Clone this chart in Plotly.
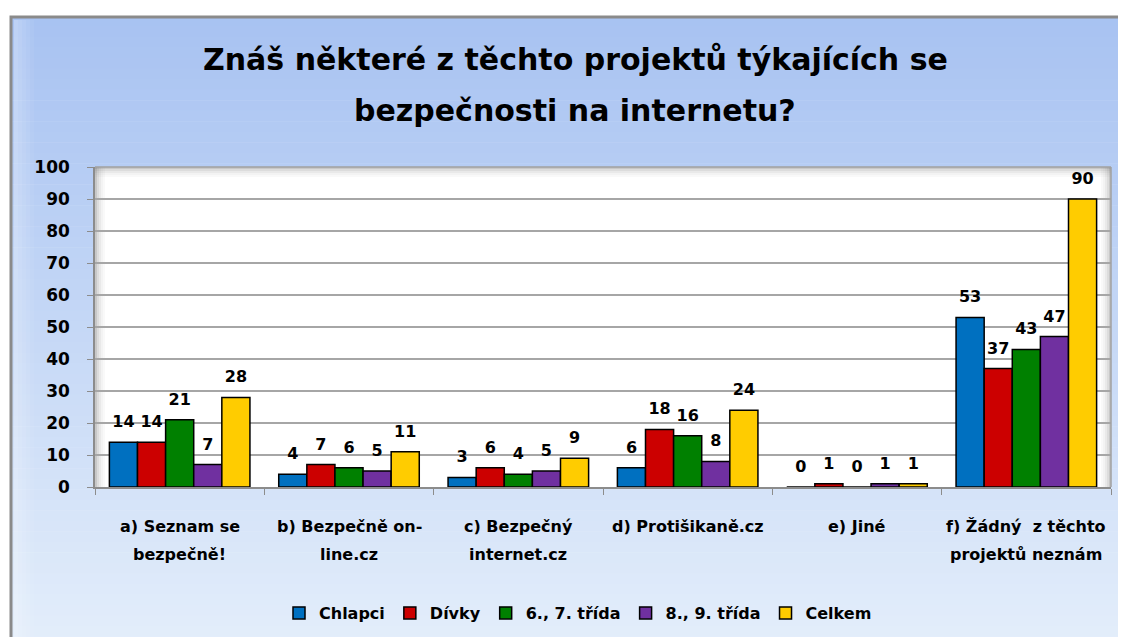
import plotly.graph_objects as go

categories = ["a) Seznam se<br>bezpečně!", "b) Bezpečně on-<br>line.cz", "c) Bezpečný<br>internet.cz",
              "d) Protišikaně.cz", "e) Jiné", "f) Žádný  z těchto<br>projektů neznám"]
cat_keys = ["a", "b", "c", "d", "e", "f"]
series_names = ["Chlapci", "Dívky", "6., 7. třída", "8., 9. třída", "Celkem"]
chlapci = [14, 4, 3, 6, 0, 53]
divky = [14, 7, 6, 18, 1, 37]
trida67 = [21, 6, 4, 16, 0, 43]
trida89 = [7, 5, 5, 8, 1, 47]
celkem = [28, 11, 9, 24, 1, 90]
colors = ["#0070c0", "#cc0000", "#008000", "#7030a0", "#ffcc00"]
y_ticks = list(range(0, 101, 10))
title_lines = ["Znáš některé z těchto projektů týkajících se", "bezpečnosti na internetu?"]

W, H = 1126, 637
OFF = 8  # page body margin
L, R, T, B = 95, 1111, 167, 487   # plot area in reference pixels
FONT = "DejaVu Sans"
GAP = 0.17


def px(x):
    return (x - L) / (R - L)


def py(y):
    return (B - y) / (B - T)


fig = go.Figure()
all_vals = [chlapci, divky, trida67, trida89, celkem]
for k, (name, vals, col) in enumerate(zip(series_names, all_vals, colors)):
    fig.add_trace(go.Bar(
        x=cat_keys, y=vals, name=name, offsetgroup=str(k),
        marker=dict(color=col, line=dict(color="black", width=1.5)),
    ))
for k, (name, vals) in enumerate(zip(series_names, all_vals)):
    fig.add_trace(go.Scatter(
        x=cat_keys, y=vals, name=name, offsetgroup=str(k), showlegend=False,
        mode="markers+text", marker=dict(size=16, opacity=0),
        text=[str(v) for v in vals], textposition="top center",
        textfont=dict(family=FONT, size=16, color="black", weight="bold"),
        cliponaxis=False, hoverinfo="skip",
    ))

shapes = []
top_c = (168, 195, 242)
bot_c = (228, 238, 251)
n = 60
y0p, y1p = 16, H + 10
for i in range(n):
    a = y0p + (y1p - y0p) * i / n
    b = y0p + (y1p - y0p) * (i + 1) / n
    t = i / (n - 1)
    c = tuple(int(top_c[k] + (bot_c[k] - top_c[k]) * t) for k in range(3))
    shapes.append(dict(type="rect", xref="paper", yref="paper", layer="below",
                       x0=px(10), x1=px(W + 20), y0=py(b + 0.5), y1=py(a),
                       fillcolor="rgb(%d,%d,%d)" % c, line=dict(width=0)))
for i, op in enumerate([0.25, 0.2, 0.15, 0.1, 0.05]):
    shapes.append(dict(type="rect", xref="paper", yref="paper", layer="below",
                       x0=px(14 + i * 4), x1=px(18 + i * 4), y0=py(H + 10), y1=py(20),
                       fillcolor="white", opacity=op, line=dict(width=0)))
shapes.append(dict(type="rect", xref="paper", yref="paper", layer="below",
                   x0=px(11), x1=px(W + 20), y0=py(H + 20), y1=py(17),
                   fillcolor="rgba(0,0,0,0)", line=dict(color="#8a8a8a", width=3)))
shapes.append(dict(type="rect", xref="paper", yref="paper", layer="below",
                   x0=0, x1=1, y0=0, y1=1, fillcolor="white", line=dict(width=0)))
for i, op in enumerate([0.35, 0.22, 0.14, 0.08, 0.04]):
    shapes.append(dict(type="rect", xref="paper", yref="paper", layer="below",
                       x0=px(L + i * 2), x1=px(L + i * 2 + 2), y0=0, y1=1,
                       fillcolor="#606060", opacity=op, line=dict(width=0)))
    shapes.append(dict(type="rect", xref="paper", yref="paper", layer="below",
                       x0=px(R - i * 2 - 2), x1=px(R - i * 2), y0=0, y1=1,
                       fillcolor="#606060", opacity=op, line=dict(width=0)))
    shapes.append(dict(type="rect", xref="paper", yref="paper", layer="below",
                       x0=0, x1=1, y0=py(T + i * 2 + 2), y1=py(T + i * 2),
                       fillcolor="#606060", opacity=op, line=dict(width=0)))
shapes.append(dict(type="line", xref="paper", yref="paper", x0=0, x1=1, y0=1, y1=1,
                   line=dict(color="#a0a0a0", width=1.5)))
shapes.append(dict(type="line", xref="paper", yref="paper", x0=1, x1=1, y0=0, y1=1,
                   line=dict(color="#a0a0a0", width=1.5)))

annotations = []
for i, line in enumerate(title_lines):
    annotations.append(dict(text="<b>%s</b>" % line, xref="paper", yref="paper",
                            x=px(575), y=py(60 + 51 * i), showarrow=False,
                            xanchor="center", yanchor="middle",
                            font=dict(family=FONT, size=30, color="black")))
for key, lab in zip(cat_keys, categories):
    parts = lab.split("<br>")
    for j, p in enumerate(parts):
        annotations.append(dict(text="<b>%s</b>" % p, xref="x", yref="paper",
                                x=key, y=py(526 + 28 * j), showarrow=False,
                                xanchor="center", yanchor="middle",
                                font=dict(family=FONT, size=16, color="black")))

fig.update_layout(
    width=W, height=H,
    margin=dict(l=L - OFF, r=W - (R - OFF), t=T - OFF, b=H - (B - OFF), pad=0),
    paper_bgcolor="white", plot_bgcolor="white",
    barmode="group", bargap=GAP, bargroupgap=0,
    scattermode="group", scattergap=GAP,
    showlegend=True,
    legend=dict(orientation="h", x=px(578), xanchor="center", y=py(613), yanchor="middle",
                font=dict(family=FONT, size=16, color="black", weight="bold"),
                bgcolor="rgba(0,0,0,0)", itemwidth=30, traceorder="normal"),
    shapes=shapes, annotations=annotations,
    font=dict(family=FONT, color="black"),
)
fig.update_xaxes(showticklabels=False, tickson="boundaries", ticks="outside", ticklen=6,
                 tickcolor="#8c8c8c", showline=True, linecolor="#8c8c8c", linewidth=1.5,
                 showgrid=False, categoryorder="array", categoryarray=cat_keys)
fig.update_yaxes(range=[0, 100], tickvals=y_ticks, ticks="outside", ticklen=6,
                 tickcolor="#8c8c8c", showline=True, linecolor="#8c8c8c", linewidth=1.5,
                 showgrid=True, gridcolor="#a6a6a6", gridwidth=1.5, zeroline=False,
                 tickfont=dict(family=FONT, size=17, color="black", weight="bold"),
                 ticklabelstandoff=14)

fig.write_html("out.html")
